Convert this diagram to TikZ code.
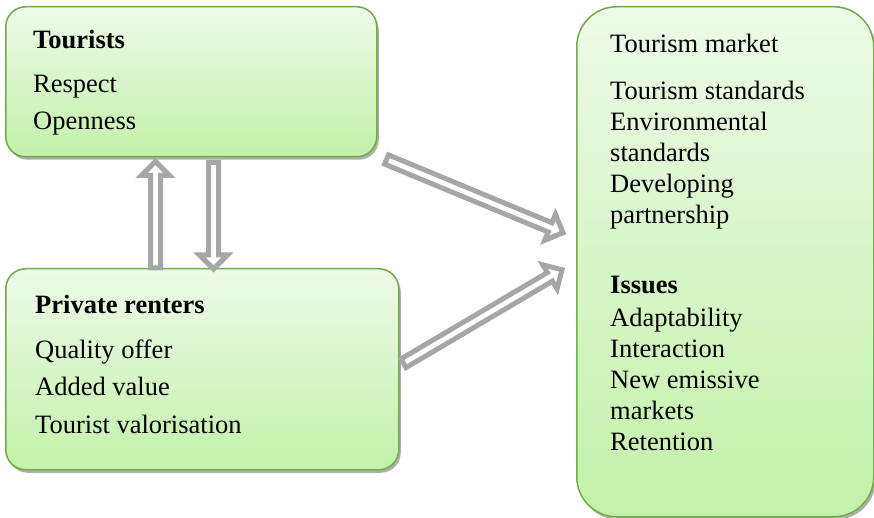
\documentclass[tikz,border=0pt]{standalone}
\usepackage{fontspec}
\setmainfont{Liberation Serif}
\usetikzlibrary{calc}
\usetikzlibrary{shadows}

\definecolor{boxtop}{RGB}{237,250,232}
\definecolor{boxbot}{RGB}{195,241,170}
\definecolor{boxline}{RGB}{113,172,72}
\definecolor{arrowgray}{RGB}{166,166,166}

% hollow block arrow from #1 to #2
\newcommand{\blockarrow}[2]{%
  \draw[blockline] ($(#1)!5pt!90:(#2)$)
    -- ($(#2)!14pt!(#1)!5pt!-90:(#1)$)
    -- ($(#2)!14pt!(#1)!14pt!-90:(#1)$)
    -- (#2)
    -- ($(#2)!14pt!(#1)!14pt!90:(#1)$)
    -- ($(#2)!14pt!(#1)!5pt!90:(#1)$)
    -- ($(#1)!5pt!-90:(#2)$) -- cycle;}

\begin{document}
\begin{tikzpicture}[x=1pt,y=-1pt,
    box/.style={draw=boxline, line width=1.5pt, rounded corners=20pt,
      top color=boxtop, bottom color=boxbot, anchor=north west, inner sep=0pt,
      drop shadow={shadow xshift=2pt, shadow yshift=-3pt, fill=black!45, opacity=.7}},
    boxtext/.style={inner sep=0pt, anchor=base west, align=left,
      font=\fontsize{26.5}{31}\selectfont},
    blockline/.style={draw=arrowgray, fill=white, line width=5pt}]
  \useasboundingbox (0,0) rectangle (874,518);

  % boxes
  \node[box, minimum width=371pt, minimum height=150pt] (tour) at (5,6) {};
  \node[box, minimum width=393pt, minimum height=201pt] (rent) at (5,268) {};
  \node[box, minimum width=297pt, minimum height=510pt, rounded corners=40pt] (market) at (576,6) {};

  % texts (placed by the baseline of their last line)
  \node[boxtext] (tourtext) at (33,130) {\textbf{Tourists}\\[13pt]Respect\\[6pt]Openness};
  \node[boxtext] (renttext) at (35,433) {\textbf{Private renters}\\[14pt]Quality offer\\[6pt]Added value\\[7pt]Tourist valorisation};
  \node[boxtext] (markettext) at (610,450) {Tourism market\\[16pt]Tourism standards\\Environmental\\standards\\Developing\\partnership\\[39pt]\textbf{Issues}\\[2pt]Adaptability\\Interaction\\New emissive\\markets\\Retention};

  % arrow ends
  \coordinate (upfrom) at ($(rent.north west)+(150.5,0)$);
  \coordinate (upto) at ($(tour.south west)+(150.5,4)$);
  \coordinate (downfrom) at ($(tour.south west)+(208.5,5)$);
  \coordinate (downto) at ($(rent.north west)+(208.5,1)$);
  \coordinate (tourout) at ($(tour.south east)+(9,2)$);
  \coordinate (rentout) at ($(rent.east)+(4,-6)$);
  \coordinate (marketin1) at ($(market.west)+(-13,-29)$);
  \coordinate (marketin2) at ($(market.west)+(-14,8)$);

  % arrows
  \blockarrow{upfrom}{upto}
  \blockarrow{downfrom}{downto}
  \blockarrow{tourout}{marketin1}
  \blockarrow{rentout}{marketin2}
\end{tikzpicture}
\end{document}
